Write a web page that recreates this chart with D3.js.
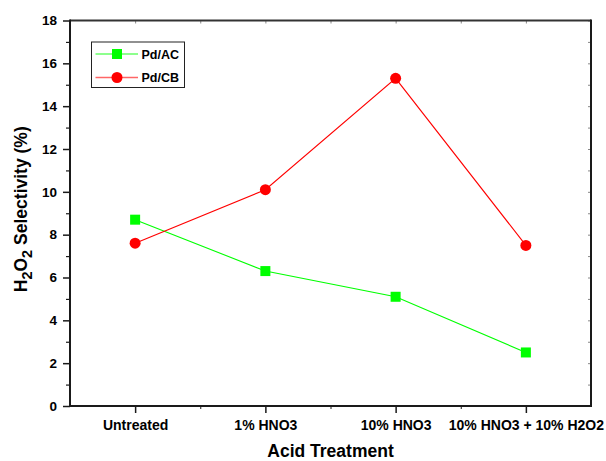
<!DOCTYPE html>
<html>
<head>
<meta charset="utf-8">
<script src="https://cdn.jsdelivr.net/npm/d3@7/dist/d3.min.js"></script>
<style>
  html, body { margin: 0; padding: 0; background: #fff; }
  svg { display: block; font-family: "Liberation Sans", Arial, sans-serif; }
</style>
</head>
<body>
<svg id="chart" width="606" height="461"></svg>
<script>
const categories = ["Untreated", "1% HNO3", "10% HNO3", "10% HNO3 + 10% H2O2"];
const pdAC = [8.7, 6.3, 5.1, 2.5];
const pdCB = [7.6, 10.1, 15.3, 7.5];
const yTicks = [0, 2, 4, 6, 8, 10, 12, 14, 16, 18];
const yMinorTicks = [1, 3, 5, 7, 9, 11, 13, 15, 17];
const seriesNames = ["Pd/AC", "Pd/CB"];
const seriesColors = ["#00ff00", "#ff0000"];

const svg = d3.select("#chart");
const L = 70, R = 591, T = 20.5, B = 406;

const x = d3.scaleLinear().domain([0.5, categories.length + 0.5]).range([L, R]);
const y = d3.scaleLinear().domain([0, 18]).range([B, T]);
const idx = categories.map((c, i) => i + 1);
const minorX = idx.slice(0, -1).map(i => i + 0.5);

const axisColor = "#1a1a1a";

// Bottom axis
const xAxis = d3.axisBottom(x).tickValues(idx).tickFormat(i => categories[i - 1]).tickSize(7).tickSizeOuter(0);
const gx = svg.append("g").attr("transform", `translate(0,${B})`).call(xAxis);
gx.select(".domain").remove();
gx.selectAll(".tick line").attr("stroke", axisColor).attr("stroke-width", 1.5);
gx.selectAll(".tick text").attr("fill", "#000").attr("font-size", 14).attr("font-weight", "bold")
  .attr("font-family", "Liberation Sans, Arial, sans-serif").attr("dy", "0").attr("y", 24);
const gxm = svg.append("g").attr("transform", `translate(0,${B})`)
  .call(d3.axisBottom(x).tickValues(minorX).tickFormat("").tickSize(3).tickSizeOuter(0));
gxm.select(".domain").remove();
gxm.selectAll(".tick line").attr("stroke", axisColor).attr("stroke-width", 1);

// Left axis
const yAxis = d3.axisLeft(y).tickValues(yTicks).tickFormat(d3.format("d")).tickSize(7).tickSizeOuter(0);
const gy = svg.append("g").attr("transform", `translate(${L},0)`).call(yAxis);
gy.select(".domain").remove();
gy.selectAll(".tick line").attr("stroke", axisColor).attr("stroke-width", 1.5);
gy.selectAll(".tick text").attr("fill", "#000").attr("font-size", 13.5).attr("font-weight", "bold")
  .attr("font-family", "Liberation Sans, Arial, sans-serif").attr("x", -13);
const gym = svg.append("g").attr("transform", `translate(${L},0)`)
  .call(d3.axisLeft(y).tickValues(yMinorTicks).tickFormat("").tickSize(4).tickSizeOuter(0));
gym.select(".domain").remove();
gym.selectAll(".tick line").attr("stroke", axisColor).attr("stroke-width", 1.2);

// Top and right mirror ticks (small, inward)
const gt = svg.append("g").attr("transform", `translate(0,${T})`)
  .call(d3.axisTop(x).tickValues(idx.concat(minorX)).tickFormat("").tickSize(-3).tickSizeOuter(0));
gt.select(".domain").remove();
gt.selectAll(".tick line").attr("stroke", "#888").attr("stroke-width", 1);
const gr = svg.append("g").attr("transform", `translate(${R},0)`)
  .call(d3.axisRight(y).tickValues(yTicks.concat(yMinorTicks)).tickFormat("").tickSize(-3).tickSizeOuter(0));
gr.select(".domain").remove();
gr.selectAll(".tick line").attr("stroke", "#888").attr("stroke-width", 1);

// Frame
svg.append("line").attr("x1", L).attr("x2", R).attr("y1", T).attr("y2", T).attr("stroke", "#333").attr("stroke-width", 2);
svg.append("line").attr("x1", R).attr("x2", R).attr("y1", T - 1).attr("y2", B + 1).attr("stroke", axisColor).attr("stroke-width", 2);
svg.append("line").attr("x1", L).attr("x2", L).attr("y1", T - 1).attr("y2", B + 1).attr("stroke", axisColor).attr("stroke-width", 2);
svg.append("line").attr("x1", L - 1).attr("x2", R + 1).attr("y1", B).attr("y2", B).attr("stroke", axisColor).attr("stroke-width", 2);

// Series
const line = d3.line().x((d, i) => x(i + 1)).y(d => y(d));
[pdAC, pdCB].forEach((vals, s) => {
  svg.append("path").datum(vals).attr("d", line).attr("fill", "none")
    .attr("stroke", seriesColors[s]).attr("stroke-width", 1.1);
});
svg.append("g").selectAll("rect").data(pdAC).join("rect")
  .attr("x", (d, i) => x(i + 1) - 5).attr("y", d => y(d) - 5)
  .attr("width", 10).attr("height", 10).attr("fill", seriesColors[0]);
svg.append("g").selectAll("circle").data(pdCB).join("circle")
  .attr("cx", (d, i) => x(i + 1)).attr("cy", d => y(d)).attr("r", 5.5)
  .attr("fill", seriesColors[1]);

// Legend
const lg = svg.append("g");
lg.append("rect").attr("x", 91.5).attr("y", 42).attr("width", 93).attr("height", 45.5)
  .attr("fill", "#fff").attr("stroke", "#222").attr("stroke-width", 1);
const legY = [54, 77.5];
seriesNames.forEach((name, s) => {
  lg.append("line").attr("x1", 95.5).attr("x2", 138).attr("y1", legY[s]).attr("y2", legY[s])
    .attr("stroke", seriesColors[s]).attr("stroke-width", 1.5).attr("stroke-opacity", 0.6);
  if (s === 0) {
    lg.append("rect").attr("x", 117 - 5).attr("y", legY[s] - 5).attr("width", 10).attr("height", 10).attr("fill", seriesColors[s]);
  } else {
    lg.append("circle").attr("cx", 117).attr("cy", legY[s]).attr("r", 5.5).attr("fill", seriesColors[s]);
  }
  lg.append("text").attr("x", 141.5).attr("y", legY[s] + 4.5).attr("font-size", 12.5).attr("font-weight", "bold")
    .attr("fill", "#000").text(name);
});

// Axis titles
svg.append("text").attr("x", (L + R) / 2).attr("y", 457).attr("text-anchor", "middle")
  .attr("font-size", 17.5).attr("font-weight", "bold").attr("fill", "#000").text("Acid Treatment");

const yt = svg.append("text").attr("transform", `translate(27,${(T + B) / 2 - 4}) rotate(-90)`)
  .attr("text-anchor", "middle").attr("font-size", 17.5).attr("font-weight", "bold").attr("fill", "#000");
yt.append("tspan").text("H");
yt.append("tspan").attr("font-size", 14.5).attr("dy", 5).text("2");
yt.append("tspan").attr("dy", -5).text("O");
yt.append("tspan").attr("font-size", 14.5).attr("dy", 5).text("2");
yt.append("tspan").attr("dy", -5).text(" Selectivity (%)");
</script>
</body>
</html>
